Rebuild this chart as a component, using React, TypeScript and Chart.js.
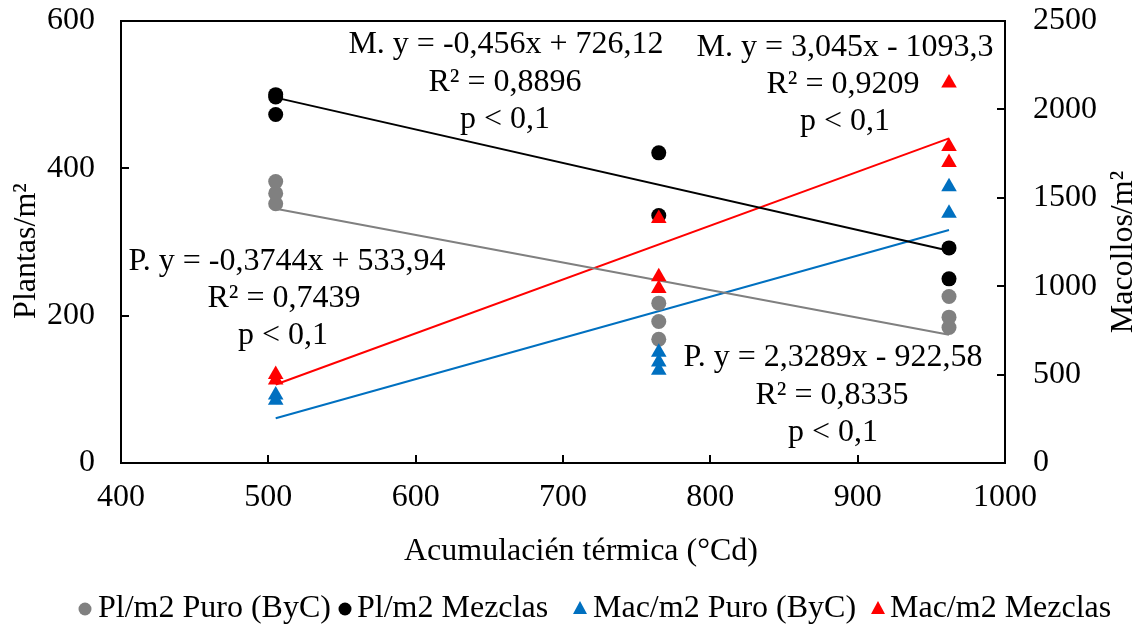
import React, { useEffect, useRef } from "react";
import { Chart, registerables } from "chart.js";
Chart.register(...registerables);

// ---- data ----
const xPlPuro = [505, 505, 505, 765, 765, 765, 962, 962, 962];
const plPuro = [382, 366, 352, 217, 192, 168, 226, 198, 184];
const xPlMez = [505, 505, 505, 765, 765, 962, 962];
const plMez = [500, 497, 473, 421, 336, 292, 250];
const xMacPuro = [505, 505, 765, 765, 765, 962, 962];
const macPuro = [385, 355, 627, 571, 525, 1562, 1412];
const xMacMez = [505, 505, 765, 765, 765, 962, 962, 962];
const macMez = [500, 470, 1383, 1053, 987, 2150, 1790, 1700];

const trendX = [505, 962];
const trendPlPuro = [345, 174];
const trendPlMez = [496, 288];
const trendMacPuro = [253, 1318];
const trendMacMez = [444, 1836];

const seriesLabels = ["Pl/m2 Puro (ByC)", "Pl/m2 Mezclas", "Mac/m2 Puro (ByC)", "Mac/m2 Mezclas"];
const xTicks = [400, 500, 600, 700, 800, 900, 1000];
const yTicks = [0, 200, 400, 600];
const y1Ticks = [0, 500, 1000, 1500, 2000, 2500];

const xTitle = "Acumulacién térmica (°Cd)";
const yTitle = "Plantas/m²";
const y1Title = "Macollos/m²";

const annotations: [string, number, number][] = [
  ["M. y = -0,456x + 726,12", 506, 45],
  ["R² = 0,8896", 505, 83],
  ["p < 0,1", 505, 120],
  ["M. y = 3,045x - 1093,3", 845, 48],
  ["R² = 0,9209", 843, 85],
  ["p < 0,1", 845, 122],
  ["P. y = -0,3744x + 533,94", 287, 262],
  ["R² = 0,7439", 284, 299],
  ["p < 0,1", 283, 336],
  ["P. y = 2,3289x - 922,58", 833, 358],
  ["R² = 0,8335", 832, 396],
  ["p < 0,1", 833, 433],
];

const legendPos: [number, number][] = [
  [85, 98],
  [345, 357],
  [580, 593],
  [878, 890],
];
const legendY = 609;

const GRAY = "#808080";
const BLACK = "#000000";
const BLUE = "#0070C0";
const RED = "#FF0000";
const FONT = "'Liberation Serif', 'Times New Roman', serif";
const FS = 32;

const pts = (xs: number[], ys: number[]) => xs.map((x, i) => ({ x, y: ys[i] }));

export default function App() {
  const ref = useRef<HTMLCanvasElement>(null);
  useEffect(() => {
    const canvas = ref.current!;
    const frame = {
      id: "frame",
      afterDraw(chart: any) {
        const { ctx, chartArea: a, scales } = chart;
        ctx.save();
        ctx.strokeStyle = "#000";
        ctx.lineWidth = 2;
        ctx.strokeRect(a.left, a.top, a.right - a.left, a.bottom - a.top);
        const tl = 8;
        ctx.beginPath();
        xTicks.forEach((v) => {
          const px = Math.round(scales.x.getPixelForValue(v));
          ctx.moveTo(px, a.bottom);
          ctx.lineTo(px, a.bottom - tl);
        });
        yTicks.forEach((v) => {
          const py = Math.round(scales.y.getPixelForValue(v));
          ctx.moveTo(a.left, py);
          ctx.lineTo(a.left + tl, py);
        });
        y1Ticks.forEach((v) => {
          const py = Math.round(scales.y1.getPixelForValue(v));
          ctx.moveTo(a.right, py);
          ctx.lineTo(a.right - tl, py);
        });
        ctx.stroke();

        ctx.fillStyle = "#000";
        ctx.font = `${FS}px ${FONT}`;
        ctx.textAlign = "center";
        ctx.textBaseline = "middle";
        // axis titles
        ctx.fillText(xTitle, 581, 552);
        ctx.save();
        ctx.translate(27, 251);
        ctx.rotate(-Math.PI / 2);
        ctx.fillText(yTitle, 0, 0);
        ctx.restore();
        ctx.save();
        ctx.translate(1124, 252);
        ctx.rotate(-Math.PI / 2);
        ctx.fillText(y1Title, 0, 0);
        ctx.restore();

        // annotations
        annotations.forEach(([t, x, y]) => ctx.fillText(t, x, y));

        // legend
        const colors = [GRAY, BLACK, BLUE, RED];
        const styles = ["circle", "circle", "triangle", "triangle"];
        seriesLabels.forEach((lab, i) => {
          const [mx, tx] = legendPos[i];
          ctx.fillStyle = colors[i];
          ctx.beginPath();
          if (styles[i] === "circle") {
            ctx.arc(mx, legendY, 6.5, 0, Math.PI * 2);
          } else {
            ctx.moveTo(mx, legendY - 8);
            ctx.lineTo(mx + 7, legendY + 5);
            ctx.lineTo(mx - 7, legendY + 5);
            ctx.closePath();
          }
          ctx.fill();
          ctx.fillStyle = "#000";
          ctx.textAlign = "left";
          ctx.fillText(lab, tx, legendY);
        });
        ctx.restore();
      },
    };

    const tickFont = { family: FONT, size: FS };
    const fmt = (v: any) => String(v);
    const chart = new Chart(canvas, {
      type: "scatter",
      data: {
        datasets: [
          { label: seriesLabels[0], data: pts(xPlPuro, plPuro), yAxisID: "y", backgroundColor: GRAY, borderColor: GRAY, pointStyle: "circle", pointRadius: 7.5, borderWidth: 0, order: 4 },
          { label: seriesLabels[1], data: pts(xPlMez, plMez), yAxisID: "y", backgroundColor: BLACK, borderColor: BLACK, pointStyle: "circle", pointRadius: 7.5, borderWidth: 0, order: 3 },
          { label: seriesLabels[2], data: pts(xMacPuro, macPuro), yAxisID: "y1", backgroundColor: BLUE, borderColor: BLUE, pointStyle: "triangle", pointRadius: 9, borderWidth: 0, order: 2 },
          { label: seriesLabels[3], data: pts(xMacMez, macMez), yAxisID: "y1", backgroundColor: RED, borderColor: RED, pointStyle: "triangle", pointRadius: 9, borderWidth: 0, order: 1 },
          { label: "t1", type: "line", data: pts(trendX, trendPlPuro), yAxisID: "y", borderColor: GRAY, borderWidth: 2, pointRadius: 0, fill: false, order: 10 },
          { label: "t2", type: "line", data: pts(trendX, trendPlMez), yAxisID: "y", borderColor: BLACK, borderWidth: 2, pointRadius: 0, fill: false, order: 10 },
          { label: "t3", type: "line", data: pts(trendX, trendMacPuro), yAxisID: "y1", borderColor: BLUE, borderWidth: 2, pointRadius: 0, fill: false, order: 10 },
          { label: "t4", type: "line", data: pts(trendX, trendMacMez), yAxisID: "y1", borderColor: RED, borderWidth: 2, pointRadius: 0, fill: false, order: 10 },
        ] as any,
      },
      options: {
        responsive: false,
        animation: false,
        layout: { padding: { top: 21, left: 0, right: 0, bottom: 0 } },
        plugins: { legend: { display: false }, tooltip: { enabled: false } },
        scales: {
          x: {
            type: "linear",
            min: 400,
            max: 1000,
            afterBuildTicks: (s: any) => { s.ticks = xTicks.map((v) => ({ value: v })); },
            ticks: { font: tickFont, color: "#000", padding: 15, maxRotation: 0, callback: fmt },
            grid: { display: false, drawTicks: false },
            border: { display: false },
            afterFit: (s: any) => { s.height = 165; s.paddingLeft = 0; s.paddingRight = 0; },
          },
          y: {
            type: "linear",
            position: "left",
            min: 0,
            max: 600,
            afterBuildTicks: (s: any) => { s.ticks = yTicks.map((v) => ({ value: v })); },
            ticks: { font: tickFont, color: "#000", padding: 26, callback: fmt },
            grid: { display: false, drawTicks: false },
            border: { display: false },
            afterFit: (s: any) => { s.width = 121; s.paddingTop = 0; s.paddingBottom = 0; },
          },
          y1: {
            type: "linear",
            position: "right",
            min: 0,
            max: 2500,
            afterBuildTicks: (s: any) => { s.ticks = y1Ticks.map((v) => ({ value: v })); },
            ticks: { font: tickFont, color: "#000", padding: 28, callback: fmt },
            grid: { display: false, drawTicks: false },
            border: { display: false },
            afterFit: (s: any) => { s.width = 142; s.paddingTop = 0; s.paddingBottom = 0; },
          },
        },
      } as any,
      plugins: [frame],
    });
    return () => chart.destroy();
  }, []);
  return (
    <div style={{ position: "fixed", left: 0, top: 0, width: 1147, height: 628, background: "#fff" }}>
      <canvas ref={ref} width={1147} height={628} />
    </div>
  );
}
